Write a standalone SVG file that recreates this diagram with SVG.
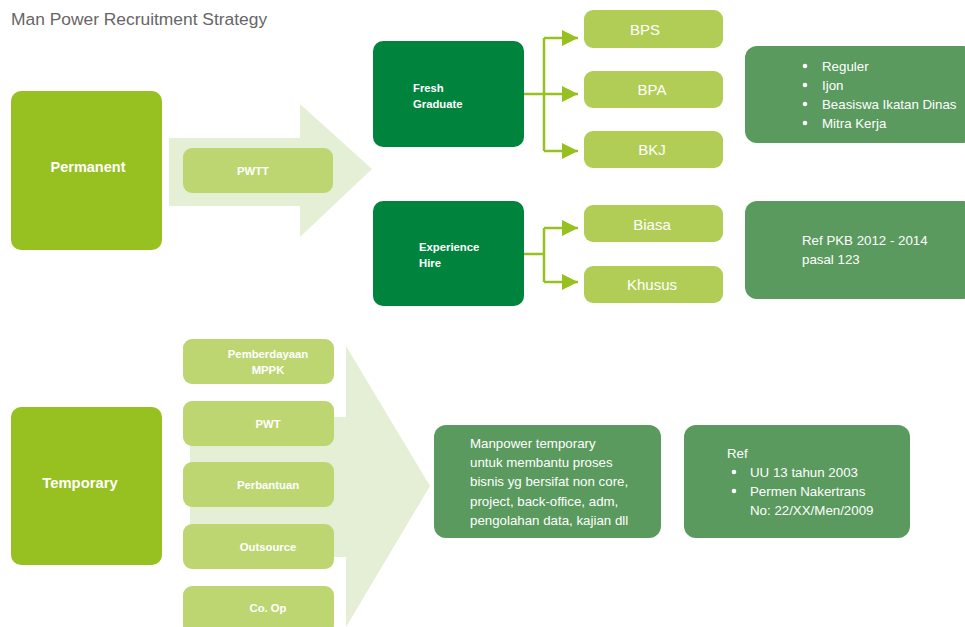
<svg xmlns="http://www.w3.org/2000/svg" width="965" height="627" viewBox="0 0 965 627">
<defs>
<style>
.main{fill:#97C121}
.dark{fill:#00833D}
.opt{fill:#B1CD56}
.sub{fill:#BDD672}
.bg{fill:#E5EFD5}
.info{fill:#5A9A5E}
.t{font-family:"Liberation Sans",Arial,sans-serif;fill:#fff}
.b{font-weight:bold}
.title{font-family:"Liberation Sans",Arial,sans-serif;fill:#666;font-size:17.4px}
.conn{fill:none;stroke:#97C121;stroke-width:2.5}
</style>
<marker id="ah" viewBox="0 0 10 10" refX="10" refY="5" markerWidth="7" markerHeight="6.4" markerUnits="strokeWidth" orient="auto">
<path d="M0,0 L10,5 L0,10 Z" fill="#97C121"/>
</marker>
</defs>
<rect width="965" height="627" fill="#fff"/>
<text class="title" x="11" y="25">Man Power Recruitment Strategy</text>

<g id="arrow-permanent"><path class="bg" d="M169,138 H300 V104 L372,169 L300,237 V206 H169 Z"/></g>
<g id="arrow-temporary"><path class="bg" d="M190,417 H346 V346 L430,486 L346,627 V557 H190 Z"/></g>

<g id="permanent"><rect class="main" x="11" y="91" width="151" height="159" rx="10"/><text class="t b" x="88" y="172" font-size="14.5" text-anchor="middle">Permanent</text></g>
<g id="pwtt"><rect class="sub" x="183" y="148" width="150" height="45" rx="9"/><text class="t b" x="253" y="175" font-size="11.3" text-anchor="middle">PWTT</text></g>

<g id="fresh"><rect class="dark" x="373" y="41" width="151" height="106" rx="10"/><text class="t b" font-size="11.3"><tspan x="413" y="92">Fresh</tspan><tspan x="413" y="108">Graduate</tspan></text></g>
<g id="exp"><rect class="dark" x="373" y="201" width="151" height="105" rx="10"/><text class="t b" font-size="11.3"><tspan x="419" y="251">Experience</tspan><tspan x="419" y="267">Hire</tspan></text></g>

<g id="bps"><rect class="opt" x="584" y="10" width="139" height="38" rx="9"/><text class="t" x="645" y="35" font-size="15" text-anchor="middle">BPS</text></g>
<g id="bpa"><rect class="opt" x="584" y="71" width="139" height="37" rx="9"/><text class="t" x="652" y="95" font-size="15" text-anchor="middle">BPA</text></g>
<g id="bkj"><rect class="opt" x="584" y="131" width="139" height="37" rx="9"/><text class="t" x="652" y="155" font-size="15" text-anchor="middle">BKJ</text></g>
<g id="biasa"><rect class="opt" x="584" y="205" width="139" height="37" rx="9"/><text class="t" x="652" y="230" font-size="15" text-anchor="middle">Biasa</text></g>
<g id="khusus"><rect class="opt" x="584" y="266" width="139" height="37" rx="9"/><text class="t" x="652" y="290" font-size="15" text-anchor="middle">Khusus</text></g>

<g id="fresh-info"><rect class="info" x="745" y="46" width="230" height="97" rx="12"/>
<g class="t" font-size="13.3">
<circle cx="805" cy="66" r="2.3" fill="#fff"/><text x="822" y="71">Reguler</text>
<circle cx="805" cy="85" r="2.3" fill="#fff"/><text x="822" y="90">Ijon</text>
<circle cx="805" cy="104" r="2.3" fill="#fff"/><text x="822" y="109">Beasiswa Ikatan Dinas</text>
<circle cx="805" cy="123" r="2.3" fill="#fff"/><text x="822" y="128">Mitra Kerja</text>
</g></g>
<g id="exp-info"><rect class="info" x="745" y="201" width="230" height="98" rx="12"/><text class="t" font-size="13.3"><tspan x="802" y="245">Ref PKB 2012 - 2014</tspan><tspan x="802" y="264">pasal 123</tspan></text></g>

<g id="temporary"><rect class="main" x="11" y="407" width="151" height="158" rx="10"/><text class="t b" x="80" y="488" font-size="14.8" text-anchor="middle">Temporary</text></g>
<g id="mppk"><rect class="sub" x="183" y="339" width="151" height="45" rx="9"/><text class="t b" font-size="11.3" text-anchor="middle"><tspan x="268" y="358">Pemberdayaan</tspan><tspan x="268" y="374">MPPK</tspan></text></g>
<g id="pwt"><rect class="sub" x="183" y="401" width="151" height="45" rx="9"/><text class="t b" x="268" y="428" font-size="11.3" text-anchor="middle">PWT</text></g>
<g id="perbantuan"><rect class="sub" x="183" y="462" width="151" height="45" rx="9"/><text class="t b" x="268" y="489" font-size="11.3" text-anchor="middle">Perbantuan</text></g>
<g id="outsource"><rect class="sub" x="183" y="524" width="151" height="45" rx="9"/><text class="t b" x="268" y="551" font-size="11.3" text-anchor="middle">Outsource</text></g>
<g id="coop"><rect class="sub" x="183" y="586" width="151" height="48" rx="9"/><text class="t b" x="268" y="612" font-size="11.3" text-anchor="middle">Co. Op</text></g>

<g id="temp-info"><rect class="info" x="434" y="425" width="227" height="113" rx="12"/><text class="t" font-size="13.3"><tspan x="470" y="448">Manpower temporary</tspan><tspan x="470" y="467">untuk membantu proses</tspan><tspan x="470" y="486">bisnis yg bersifat non core,</tspan><tspan x="470" y="506">project, back-office, adm,</tspan><tspan x="470" y="525">pengolahan data, kajian dll</tspan></text></g>
<g id="temp-ref"><rect class="info" x="684" y="425" width="226" height="113" rx="12"/>
<g class="t" font-size="13.3"><text x="727" y="458">Ref</text>
<circle cx="734" cy="472" r="2.3" fill="#fff"/><text x="750" y="477">UU 13 tahun 2003</text>
<circle cx="734" cy="491" r="2.3" fill="#fff"/><text x="750" y="496">Permen Nakertrans</text>
<text x="750" y="515">No: 22/XX/Men/2009</text></g></g>

<g id="connectors">
<path class="conn" d="M524,94 H544"/>
<path class="conn" d="M544,38 V151"/>
<path class="conn" d="M544,38 H578" marker-end="url(#ah)"/>
<path class="conn" d="M544,94 H578" marker-end="url(#ah)"/>
<path class="conn" d="M544,151 H578" marker-end="url(#ah)"/>
<path class="conn" d="M524,254 H544"/>
<path class="conn" d="M544,228 V282"/>
<path class="conn" d="M544,228 H578" marker-end="url(#ah)"/>
<path class="conn" d="M544,282 H578" marker-end="url(#ah)"/>
</g>
</svg>
